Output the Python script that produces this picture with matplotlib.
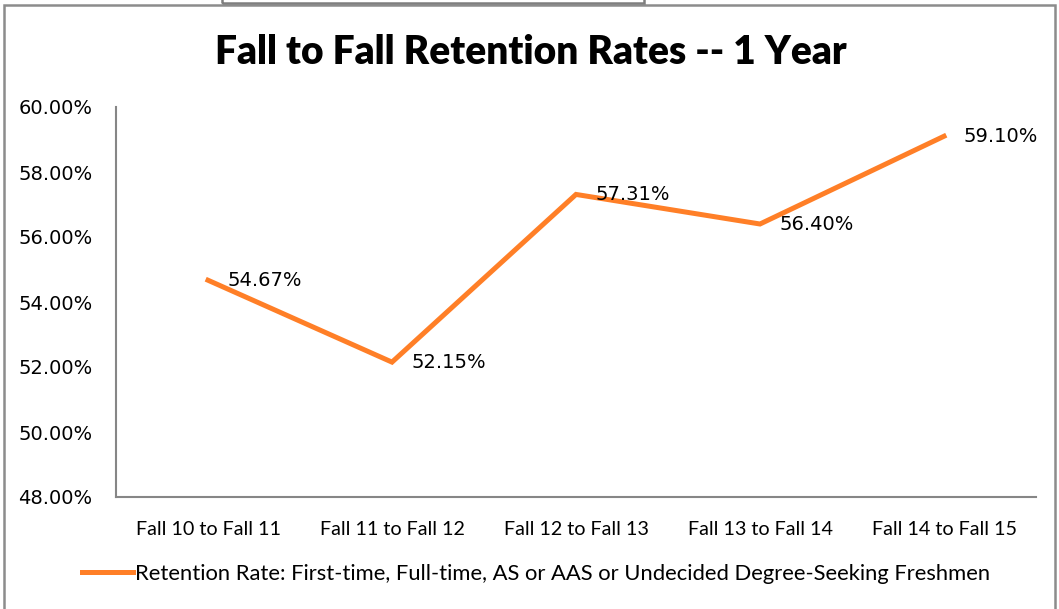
import matplotlib
matplotlib.use("Agg")
import matplotlib.pyplot as plt
from matplotlib.patches import Rectangle
from matplotlib.ticker import FuncFormatter

periods = ["Fall 10 to Fall 11", "Fall 11 to Fall 12", "Fall 12 to Fall 13",
           "Fall 13 to Fall 14", "Fall 14 to Fall 15"]
retention = [54.67, 52.15, 57.31, 56.40, 59.10]
series_name = "Retention Rate: First-time, Full-time, AS or AAS or Undecided Degree-Seeking Freshmen"
title = "Fall to Fall Retention Rates -- 1 Year"

ORANGE = "#FF7F27"
W, H = 1059, 609

fig = plt.figure(figsize=(W / 100, H / 100), dpi=100)
ax = fig.add_axes([116 / W, 1 - 497 / H, (1036 - 116) / W, (497 - 107) / H])

x = list(range(len(periods)))
line, = ax.plot(x, retention, color=ORANGE, lw=3.6, solid_joinstyle="miter")
for xi, v in zip(x, retention):
    ax.annotate(f"{v:.2f}%", (xi, v), xytext=(14, 0), textcoords="offset points",
                ha="left", va="center", fontsize=14, family="DejaVu Sans")

ax.set_xlim(-0.5, len(periods) - 0.5)
ax.set_ylim(48, 60)
ax.set_yticks([48, 50, 52, 54, 56, 58, 60])
ax.yaxis.set_major_formatter(FuncFormatter(lambda v, p: f"{v:.2f}%"))
ax.set_xticks(x)
ax.set_xticklabels(periods, family="Lato", fontsize=14.2)
for lab in ax.get_yticklabels():
    lab.set_fontsize(14)
ax.tick_params(axis="both", length=0)
ax.tick_params(axis="y", pad=17)
ax.tick_params(axis="x", pad=17)
for s in ("top", "right"):
    ax.spines[s].set_visible(False)
for s in ("left", "bottom"):
    ax.spines[s].set_color("#868686")
    ax.spines[s].set_linewidth(1.5)

fig.text(531 / W, 1 - 52 / H, title, ha="center", va="center",
         family="Lato", fontweight="heavy", fontsize=28)

fig.legend([line], [series_name], loc="center", bbox_to_anchor=(536 / W, 1 - 574 / H),
           frameon=False, prop={"family": "Lato", "size": 15.8},
           handlelength=2.3, handletextpad=0.1)

# chart frame and the stray box at the top
fig.patches.append(Rectangle((4 / W, -0.05), (1055 - 4) / W, 1.05 - 5 / H,
                             transform=fig.transFigure, fill=False,
                             edgecolor="#8c8c8c", lw=1.8))
fig.patches.append(Rectangle((222 / W, 1 - 3 / H), (644 - 222) / W, 0.02,
                             transform=fig.transFigure, fill=False,
                             edgecolor="#7f7f7f", lw=1.8))

fig.savefig("out.png", dpi=100)
